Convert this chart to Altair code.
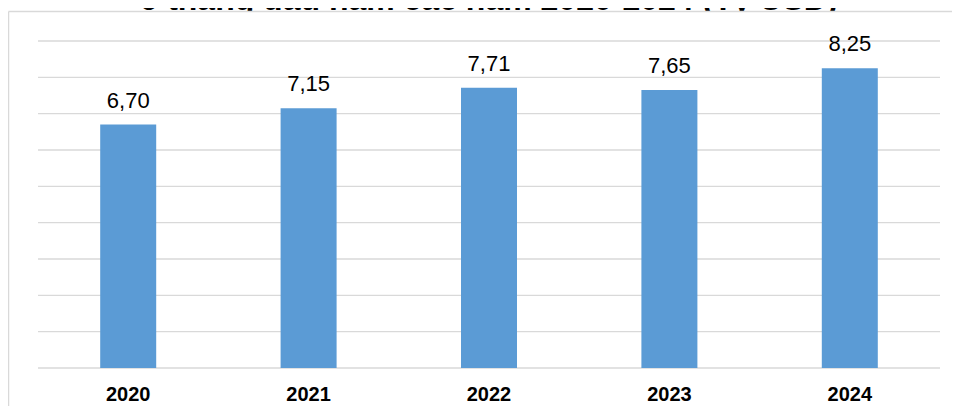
import altair as alt
import pandas as pd

years = ["2020", "2021", "2022", "2023", "2024"]
values = [6.70, 7.15, 7.71, 7.65, 8.25]
labels = ["6,70", "7,15", "7,71", "7,65", "8,25"]
title_text = "9 tháng đầu năm các năm 2020-2024 (Tỷ USD)"
y_grid = [0, 1, 2, 3, 4, 5, 6, 7, 8, 9]

FONT = "Liberation Sans"
W, H = 902, 327

df = pd.DataFrame({"year": years, "value": values, "label": labels})
grid_df = pd.DataFrame({"g": y_grid})
one = pd.DataFrame({"t": [title_text]})

x_enc = alt.X(
    "year:N",
    sort=years,
    scale=alt.Scale(paddingInner=0, paddingOuter=0),
    axis=alt.Axis(
        title=None,
        labelFont=FONT,
        labelFontSize=20,
        labelFontWeight="bold",
        labelColor="#000000",
        labelAngle=0,
        domain=False,
        ticks=False,
        tickSize=0,
        labelPadding=32,
        labelBaseline="alphabetic",
        grid=False,
    ),
)
y_scale = alt.Scale(domain=[0, 9], nice=False, zero=True)
y_enc = alt.Y("value:Q", scale=y_scale, axis=None)

grid = alt.Chart(grid_df).mark_rule(color="#d9d9d9", strokeWidth=1.4).encode(
    y=alt.Y("g:Q", scale=y_scale, axis=None),
    x=alt.value(0),
    x2=alt.value(W),
)

bars = alt.Chart(df).mark_bar(size=56, color="#5b9bd5").encode(x=x_enc, y=y_enc)

vals = alt.Chart(df).mark_text(
    baseline="alphabetic", dy=-17, fontSize=22, font=FONT, color="#000000"
).encode(x=alt.X("year:N", sort=years), y=alt.Y("value:Q"), text="label:N")

title = alt.Chart(one).mark_text(
    baseline="alphabetic", align="center", fontSize=32, fontWeight="bold",
    font=FONT, color="#000000"
).encode(x=alt.value(W / 2), y=alt.value(-31), text="t:N")

# white chart area that hides the part of the title below the frame
cover = alt.Chart(one).mark_rect(color="#ffffff").encode(
    x=alt.value(-29), x2=alt.value(W + 20), y=alt.value(-30), y2=alt.value(-18)
)

frame_left = alt.Chart(one).mark_rule(color="#d9d9d9", strokeWidth=1.5).encode(
    x=alt.value(-29.5), y=alt.value(-29.5), y2=alt.value(H + 40)
)
frame_top = alt.Chart(one).mark_rule(color="#d9d9d9", strokeWidth=1.5).encode(
    x=alt.value(-29.5), x2=alt.value(W + 20), y=alt.value(-29.5)
)

chart = alt.layer(title, cover, frame_left, frame_top, grid, bars, vals).properties(
    width=W,
    height=H,
    padding={"left": 30, "top": 33, "right": 12, "bottom": 38},
    autosize="none",
    background="#ffffff",
).configure_view(stroke=None)

chart.save("out.html", embed_options={"renderer": "svg", "actions": False})
